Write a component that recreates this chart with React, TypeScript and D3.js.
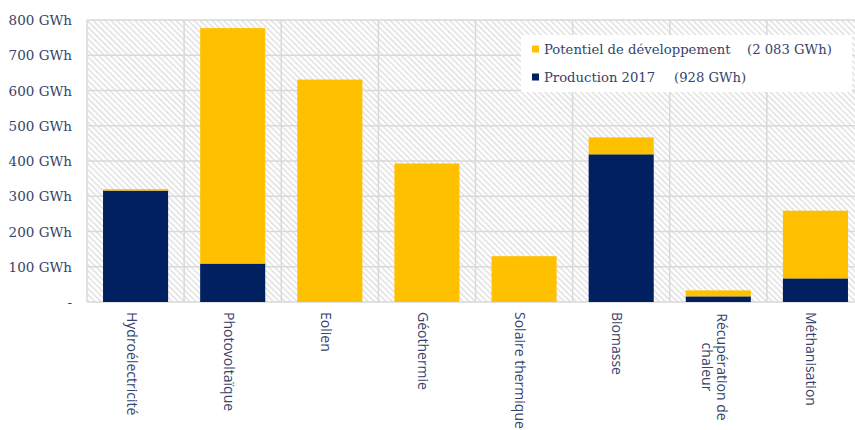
import React from "react";
import * as d3 from "d3";

const categories = [
  ["Hydroélectricité"],
  ["Photovoltaïque"],
  ["Eolien"],
  ["Géothermie"],
  ["Solaire thermique"],
  ["Biomasse"],
  ["Récupération de", "chaleur"],
  ["Méthanisation"],
];
const production2017 = [316, 109, 0, 0, 0, 419, 16, 67];
const potentiel = [4, 668, 631, 393, 130, 48, 17, 192];
const yTicks = [0, 100, 200, 300, 400, 500, 600, 700, 800];
const legendItems = [
  { label: "Potentiel de développement", total: "(2 083 GWh)", color: "#FFC000" },
  { label: "Production 2017", total: "(928 GWh)", color: "#002060" },
];

const W = 855;
const H = 430;
const plot = { left: 87, right: 864, top: 20, bottom: 302 };
const textColor = "#36436b";
const serif = "'DejaVu Serif', serif";
const sans = "'Open Sans', sans-serif";

export default function App() {
  const x = d3
    .scaleBand<number>()
    .domain(categories.map((_, i) => i))
    .range([plot.left, plot.right])
    .paddingInner(0.33)
    .paddingOuter(0.165);
  const y = d3.scaleLinear().domain([0, 800]).range([plot.bottom, plot.top]);

  const rows = categories.map((_, i) => ({ prod: production2017[i], pot: potentiel[i] }));
  const stack = d3.stack<any>().keys(["prod", "pot"])(rows);
  const colors = ["#002060", "#FFC000"];

  const step = (plot.right - plot.left) / categories.length;
  const boundaries = d3.range(categories.length + 1).map((i) => plot.left + i * step);

  return (
    <svg width={W} height={H} style={{ position: "absolute", left: 0, top: 0, background: "#fff" }}>
      <defs>
        <pattern id="hatch" patternUnits="userSpaceOnUse" width={4.2} height={4.2} patternTransform="rotate(-45)">
          <rect width={4.2} height={4.2} fill="#ffffff" />
          <line x1={1} y1={0} x2={1} y2={4.2} stroke="#e2e2e2" strokeWidth={1.6} />
        </pattern>
      </defs>
      <rect width={W} height={H} fill="#fff" />
      <rect
        x={plot.left}
        y={plot.top}
        width={plot.right - plot.left}
        height={plot.bottom - plot.top}
        fill="url(#hatch)"
      />
      {yTicks.map((t) => (
        <line
          key={"h" + t}
          x1={plot.left}
          x2={plot.right}
          y1={y(t)}
          y2={y(t)}
          stroke="#d9d9d9"
          strokeWidth={1.5}
        />
      ))}
      {boundaries.map((bx, i) => (
        <line
          key={"v" + i}
          x1={bx}
          x2={bx}
          y1={plot.top}
          y2={plot.bottom}
          stroke="#d9d9d9"
          strokeWidth={1.5}
        />
      ))}
      {stack.map((layer, li) =>
        layer.map((d, i) =>
          d[1] - d[0] > 0 ? (
            <rect
              key={li + "-" + i}
              x={x(i)!}
              width={x.bandwidth()}
              y={y(d[1])}
              height={y(d[0]) - y(d[1])}
              fill={colors[li]}
            />
          ) : null
        )
      )}
      {yTicks.map((t) => (
        <text
          key={"t" + t}
          x={72}
          y={y(t)}
          textAnchor="end"
          dominantBaseline="central"
          fontFamily={serif}
          fontSize={13.5}
          fill={textColor}
        >
          {t === 0 ? "-" : `${t} GWh`}
        </text>
      ))}
      {categories.map((lines, i) => {
        const cx = x(i)! + x.bandwidth() / 2 - 3.5;
        const n = lines.length;
        return lines.map((ln, j) => {
          const lx = cx + ((n - 1) / 2 - j) * 15;
          const multi = n > 1;
          return (
            <text
              key={"c" + i + "-" + j}
              transform={`translate(${lx},${multi ? 367 : 312}) rotate(90)`}
              textAnchor={multi ? "middle" : "start"}
              dominantBaseline="central"
              fontFamily={sans}
              fontSize={14}
              fill={textColor}
            >
              {ln}
            </text>
          );
        });
      })}
      <rect x={521} y={35} width={331} height={57} fill="#ffffff" />
      {legendItems.map((it, i) => {
        const cy = 49 + i * 28;
        return (
          <g key={"l" + i}>
            <rect x={532} y={cy - 3.5} width={7} height={7} fill={it.color} />
            <text x={544} y={cy} dominantBaseline="central" fontFamily={serif} fontSize={13.2} fill={textColor}>
              {it.label}
            </text>
            <text
              x={i === 0 ? 747 : 674}
              y={cy}
              dominantBaseline="central"
              fontFamily={serif}
              fontSize={13.2}
              fill={textColor}
            >
              {it.total}
            </text>
          </g>
        );
      })}
    </svg>
  );
}
